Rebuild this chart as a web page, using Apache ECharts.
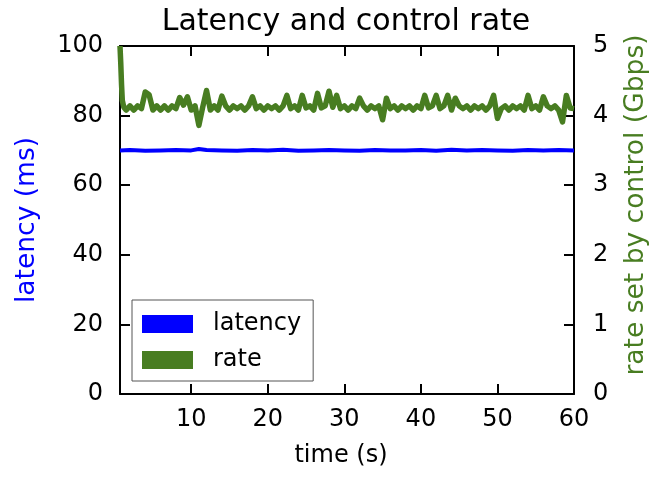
<!DOCTYPE html>
<html>
<head>
<meta charset="utf-8">
<script src="https://cdn.jsdelivr.net/npm/echarts@6/dist/echarts.min.js"></script>
<style>
html,body{margin:0;padding:0;background:#fff;}
#chart{width:665px;height:479px;}
</style>
</head>
<body>
<div id="chart"></div>
<script>
// ---- data ----
const rateTime = [0.7,0.8,0.9,1.0,1.2,
  1.5,2.0,2.5,3.0,3.5,4.0,4.5,5.0,5.5,6.0,
  6.5,7.0,7.5,8.0,8.5,9.0,9.5,10.0,10.5,11.0,
  11.5,12.0,12.5,13.0,13.5,14.0,14.5,15.0,15.5,16.0,
  16.5,17.0,17.5,18.0,18.5,19.0,19.5,20.0,20.5,21.0,
  21.5,22.0,22.5,23.0,23.5,24.0,24.5,25.0,25.5,26.0,
  26.5,27.0,27.5,28.0,28.5,29.0,29.5,30.0,30.5,31.0,
  31.5,32.0,32.5,33.0,33.5,34.0,34.5,35.0,35.5,36.0,
  36.5,37.0,37.5,38.0,38.5,39.0,39.5,40.0,40.5,41.0,
  41.5,42.0,42.5,43.0,43.5,44.0,44.5,45.0,45.5,46.0,
  46.5,47.0,47.5,48.0,48.5,49.0,49.5,50.0,50.5,51.0,
  51.5,52.0,52.5,53.0,53.5,54.0,54.5,55.0,55.5,56.0,
  56.5,57.0,57.5,58.0,58.5,59.0,59.5,60.0];
const rateGbps = [5.00,4.75,4.45,4.22,4.12,
  4.08,4.14,4.08,4.14,4.10,4.34,4.30,4.08,4.14,4.08,
  4.14,4.08,4.14,4.10,4.26,4.15,4.27,4.08,4.14,3.86,
  4.12,4.36,4.08,4.14,4.08,4.28,4.14,4.08,4.14,4.10,
  4.14,4.08,4.14,4.27,4.10,4.14,4.08,4.14,4.10,4.14,
  4.08,4.14,4.29,4.10,4.14,4.08,4.29,4.11,4.14,4.08,
  4.32,4.11,4.14,4.35,4.12,4.29,4.10,4.14,4.08,4.14,
  4.10,4.25,4.14,4.08,4.14,4.10,4.14,3.94,4.25,4.10,
  4.14,4.08,4.14,4.10,4.14,4.08,4.14,4.10,4.29,4.11,
  4.14,4.29,4.10,4.14,4.29,4.08,4.25,4.14,4.10,4.14,
  4.08,4.14,4.10,4.14,4.08,4.14,4.29,3.96,4.10,4.14,
  4.08,4.14,4.10,4.14,4.08,4.29,4.10,4.14,4.08,4.27,
  4.14,4.10,4.14,4.08,3.91,4.29,4.11,4.10];
const latencyTime = [0.7,2,4,6,8,10,11,12,14,16,18,20,22,24,26,28,30,32,34,36,38,40,42,44,46,48,50,52,54,56,58,60];
const latencyMs = [70.0,70.1,69.9,70.0,70.1,70.0,70.4,70.1,70.0,69.9,70.1,70.0,70.2,69.9,70.0,70.1,70.0,69.9,70.1,70.0,70.0,70.1,69.9,70.2,70.0,70.1,70.0,69.9,70.1,70.0,70.1,70.0];
const xTicks = [10,20,30,40,50,60];
const latencyTicks = [0,20,40,60,80,100];
const rateTicks = [0,1,2,3,4,5];
const seriesNames = ['latency','rate'];
const titleText = 'Latency and control rate';
const xName = 'time (s)';
const yLeftName = 'latency (ms)';
const yRightName = 'rate set by control (Gbps)';

// ---- styling ----
const FONT = 'DejaVu Sans';
const BLUE = '#0000ff';
const GREEN = '#487d21';
const axisLineStyle = {color:'#000', width:2};
const tickStyle = {inside:true, length:10, lineStyle:{color:'#000', width:2}};
const labelStyle = {fontFamily:FONT, fontSize:24, color:'#000'};

const chart = echarts.init(document.getElementById('chart'), null, {renderer:'canvas'});
chart.setOption({
  animation:false,
  backgroundColor:'#fff',
  title:{
    text:titleText, left:341, top:2, textAlign:'center',
    textStyle:{fontFamily:FONT, fontSize:30, fontWeight:'normal', color:'#000'}
  },
  grid:{left:120, right:91, top:46, bottom:85},
  legend:{
    orient:'vertical', left:132, top:300,
    data:seriesNames, icon:'rect', itemWidth:51, itemHeight:18, itemGap:12,
    padding:[12,12,9,10],
    backgroundColor:'#fff', borderColor:'#555', borderWidth:1, borderRadius:0,
    textStyle:{fontFamily:FONT, fontSize:24, color:'#000', lineHeight:24, padding:[0,0,0,15]}
  },
  xAxis:[
    {type:'value', min:0.7, max:60, position:'bottom',
     axisLine:{show:true, onZero:false, lineStyle:axisLineStyle},
     axisTick:Object.assign({customValues:xTicks}, tickStyle),
     axisLabel:Object.assign({customValues:xTicks, margin:14}, labelStyle),
     splitLine:{show:false},
     name:xName, nameLocation:'middle', nameGap:50,
     nameTextStyle:{fontFamily:FONT, fontSize:24, color:'#000', padding:[0,12,0,0]}},
    {type:'value', min:0.7, max:60, position:'top',
     axisLine:{show:true, onZero:false, lineStyle:axisLineStyle},
     axisTick:Object.assign({customValues:xTicks}, tickStyle),
     axisLabel:{show:false, customValues:xTicks},
     splitLine:{show:false}}
  ],
  yAxis:[
    {type:'value', min:latencyTicks[0], max:latencyTicks[latencyTicks.length-1], interval:20, position:'left',
     axisLine:{show:true, onZero:false, lineStyle:axisLineStyle},
     axisTick:tickStyle,
     axisLabel:Object.assign({margin:17}, labelStyle),
     splitLine:{show:false},
     name:yLeftName, nameLocation:'middle', nameRotate:90, nameGap:79,
     nameTextStyle:{fontFamily:FONT, fontSize:26.5, color:BLUE}},
    {type:'value', min:rateTicks[0], max:rateTicks[rateTicks.length-1], interval:1, position:'right',
     axisLine:{show:true, onZero:false, lineStyle:axisLineStyle},
     axisTick:tickStyle,
     axisLabel:Object.assign({margin:19}, labelStyle),
     splitLine:{show:false},
     name:yRightName, nameLocation:'middle', nameRotate:90, nameGap:49,
     nameTextStyle:{fontFamily:FONT, fontSize:26.5, color:GREEN, padding:[0,0,0,30]}}
  ],
  series:[
    {name:seriesNames[0], type:'line', xAxisIndex:0, yAxisIndex:0,
     data:latencyTime.map((t,i)=>[t, latencyMs[i]]),
     showSymbol:false, symbol:'none', color:BLUE, itemStyle:{color:BLUE},
     lineStyle:{color:BLUE, width:4}, z:2},
    {name:seriesNames[1], type:'line', xAxisIndex:0, yAxisIndex:1,
     data:rateTime.map((t,i)=>[t, rateGbps[i]]),
     showSymbol:false, symbol:'none', color:GREEN, itemStyle:{color:GREEN},
     lineStyle:{color:GREEN, width:5.5, join:'round'}, z:3}
  ]
});
</script>
</body>
</html>
